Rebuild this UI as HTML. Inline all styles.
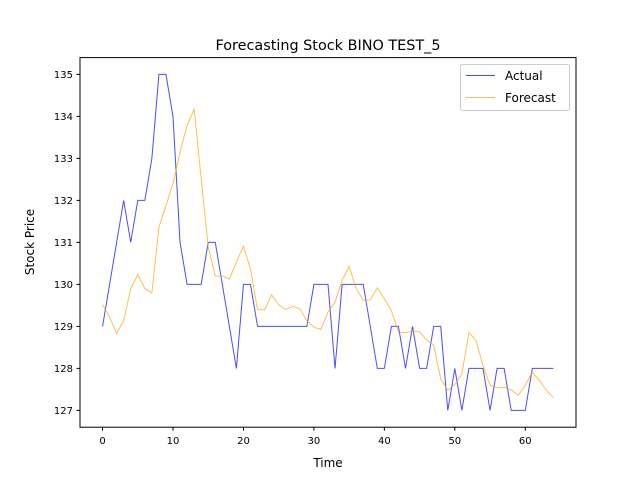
<!DOCTYPE html>
<html><head><meta charset="utf-8"><style>
body{margin:0;background:#fff;}
svg{display:block;font-family:"DejaVu Sans","Liberation Sans",sans-serif;}
</style></head><body>
<svg id="chart" width="640" height="480">
<rect width="640" height="480" fill="#fff"/>
<text x="328" y="50" font-size="14.4" text-anchor="middle">Forecasting Stock BINO TEST_5</text>
<g id="ticks"></g>
<g id="series"></g>
<rect x="80" y="57.6" width="496" height="369.6" fill="none" stroke="#000" stroke-width="1"/>
<text x="328" y="467" font-size="12" text-anchor="middle">Time</text>
<text x="0" y="0" font-size="12" text-anchor="middle" transform="translate(34,242) rotate(-90)">Stock Price</text>
<g>
<rect x="460.5" y="64.5" width="109" height="46" rx="2" fill="#fff" stroke="#ccc" stroke-width="1"/>
<line x1="466" y1="75.5" x2="495" y2="75.5" stroke="#0000ff" stroke-opacity="0.7"/>
<text x="505" y="80" font-size="12">Actual</text>
<line x1="466" y1="97.5" x2="495" y2="97.5" stroke="#ffa500" stroke-opacity="0.7"/>
<text x="505" y="102" font-size="12">Forecast</text>
</g>
</svg>
<script>
const actual=[129,130,131,132,131,132,132,133,135,135,134,131,130,130,130,131,131,130,129,128,130,130,129,129,129,129,129,129,129,129,130,130,130,128,130,130,130,130,129,128,128,129,129,128,129,128,128,129,129,127,128,127,128,128,128,127,128,128,127,127,127,128,128,128,128];
const forecast=[129.52,129.22,128.83,129.14,129.90,130.23,129.90,129.80,131.36,131.88,132.40,133.15,133.79,134.17,132.52,130.89,130.20,130.20,130.13,130.53,130.91,130.37,129.40,129.39,129.75,129.52,129.40,129.48,129.42,129.14,128.98,128.93,129.34,129.58,130.10,130.43,129.90,129.62,129.63,129.92,129.66,129.37,128.87,128.85,128.89,128.87,128.68,128.55,127.75,127.48,127.62,127.87,128.85,128.67,128.07,127.60,127.54,127.55,127.49,127.36,127.60,127.91,127.71,127.48,127.30];
const xTicks=[0,10,20,30,40,50,60];
const yTicks=[127,128,129,130,131,132,133,134,135];
const X0=80,X1=576,Y0=57.6,Y1=427.2;
const xMin=-3.2,xMax=67.2,yMin=126.6,yMax=135.4;
function sx(v){return X0+(v-xMin)/(xMax-xMin)*(X1-X0);}
function sy(v){return Y1-(v-yMin)/(yMax-yMin)*(Y1-Y0);}
const NS="http://www.w3.org/2000/svg";
const tg=document.getElementById('ticks');
xTicks.forEach(t=>{
 const l=document.createElementNS(NS,'line');
 l.setAttribute('x1',sx(t));l.setAttribute('x2',sx(t));l.setAttribute('y1',Y1);l.setAttribute('y2',Y1+3.5);l.setAttribute('stroke','#000');
 
 
 tg.appendChild(l);
 const tx=document.createElementNS(NS,'text');
 tx.setAttribute('x',sx(t));tx.setAttribute('y',Y1+17);tx.setAttribute('font-size','10');tx.setAttribute('text-anchor','middle');tx.textContent=t;
 
 
 tg.appendChild(tx);
});
yTicks.forEach(t=>{
 const l=document.createElementNS(NS,'line');
 l.setAttribute('x1',X0-3.5);l.setAttribute('x2',X0);l.setAttribute('y1',sy(t));l.setAttribute('y2',sy(t));l.setAttribute('stroke','#000');
 
 
 tg.appendChild(l);
 const tx=document.createElementNS(NS,'text');
 tx.setAttribute('x',X0-7);tx.setAttribute('y',sy(t)+3.5);tx.setAttribute('font-size','10');tx.setAttribute('text-anchor','end');tx.textContent=t;
 
 
 tg.appendChild(tx);
});
const sg=document.getElementById('series');
function line(arr,color,name){
 const p=document.createElementNS(NS,'polyline');
 p.setAttribute('points',arr.map((v,i)=>sx(i)+','+sy(v)).join(' '));
 p.setAttribute('fill','none');p.setAttribute('stroke',color);p.setAttribute('stroke-opacity','0.7');p.setAttribute('stroke-width','1');
 
 
 sg.appendChild(p);
}
line(actual,'#0000ff','actual-line');
line(forecast,'#ffa500','forecast-line');
</script>
</body></html>
